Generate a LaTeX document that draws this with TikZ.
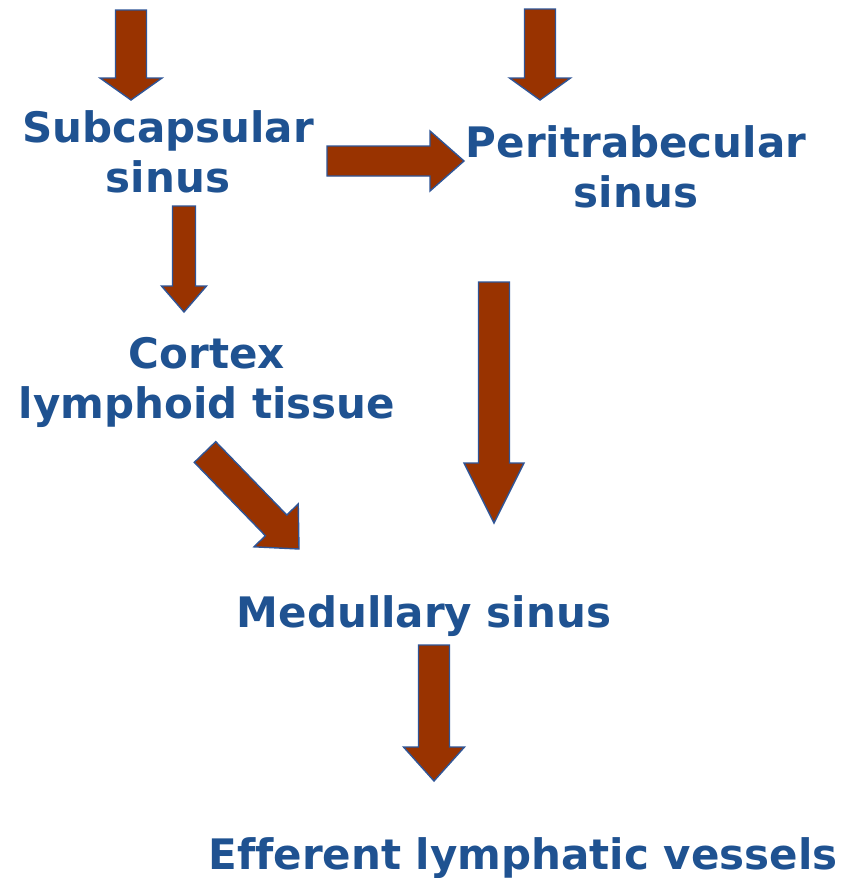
\documentclass[tikz,border=0pt]{standalone}
\usepackage{fontspec}
\setmainfont{DejaVu Sans}[Ligatures=NoCommon]
\usetikzlibrary{calc}
\definecolor{txtblue}{RGB}{31,82,145}
\definecolor{arrfill}{RGB}{153,51,0}
\definecolor{arredge}{RGB}{47,85,151}
\newcommand{\blockarrow}[5]{% start, tip, shaft half-width, head half-width, head length
  \draw[blockarr]
    ($(#1)!#3!90:(#2)$) --
    ($($(#2)!#5!(#1)$)!#3!90:(#2)$) --
    ($($(#2)!#5!(#1)$)!#4!90:(#2)$) --
    (#2) --
    ($($(#2)!#5!(#1)$)!#4!-90:(#2)$) --
    ($($(#2)!#5!(#1)$)!#3!-90:(#2)$) --
    ($(#1)!#3!-90:(#2)$) -- cycle;}
\begin{document}
\begin{tikzpicture}[x=1pt,y=-1pt,
  lbl/.style={text=txtblue,font=\bfseries\fontsize{42}{49.5}\selectfont,align=center,anchor=base,inner sep=0pt},
  blockarr/.style={fill=arrfill,draw=arredge,line width=1.4pt,line join=miter}]
\useasboundingbox (0,0) rectangle (846,878);
\fill[white] (0,0) rectangle (846,878);
% labels (anchor = baseline of the last line)
\node[lbl] (sub) at (168,192) {Subcapsular\\sinus};
\node[lbl] (peri) at (636,207) {Peritrabecular\\sinus};
\node[lbl] (cortex) at (207,418) {Cortex\\lymphoid tissue};
\node[lbl] (med) at (424,627) {Medullary sinus};
\node[lbl] (eff) at (523,869) {Efferent lymphatic vessels};
% arrow end points
\coordinate (a1s) at (131,10);  \coordinate (a1t) at (131,100);
\coordinate (a2s) at (540,9);   \coordinate (a2t) at (540,100);
\coordinate (a3s) at (327,161); \coordinate (a3t) at (464,161);
\coordinate (a4s) at (184,206); \coordinate (a4t) at (184,312);
\coordinate (a5s) at (494,282); \coordinate (a5t) at (494,523);
\coordinate (a6s) at (434,645); \coordinate (a6t) at (434,781);
\coordinate (a7s) at (205,452); \coordinate (a7t) at (299,549);
% block arrows
\blockarrow{a1s}{a1t}{15.5pt}{31pt}{22pt}
\blockarrow{a2s}{a2t}{15.5pt}{30.5pt}{22pt}
\blockarrow{a3s}{a3t}{15pt}{30pt}{34pt}
\blockarrow{a4s}{a4t}{11.5pt}{22.5pt}{26pt}
\blockarrow{a5s}{a5t}{15.5pt}{30pt}{60pt}
\blockarrow{a6s}{a6t}{15.5pt}{30.5pt}{34pt}
\blockarrow{a7s}{a7t}{14.9pt}{30.8pt}{32.9pt}
\end{tikzpicture}
\end{document}
